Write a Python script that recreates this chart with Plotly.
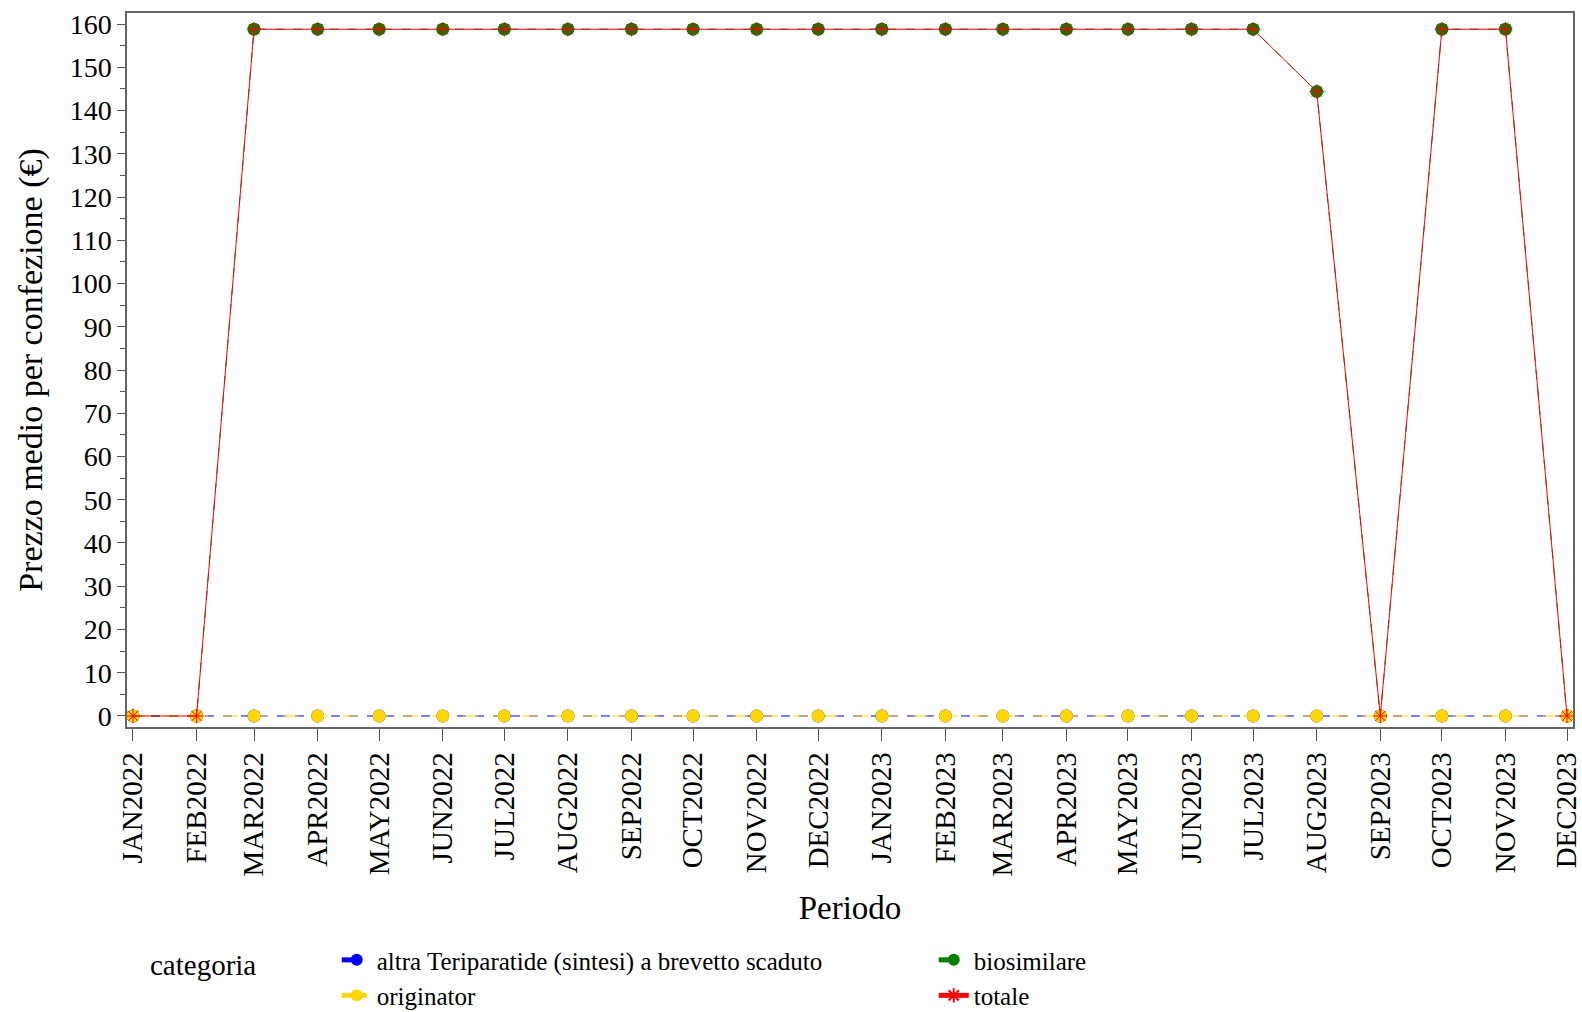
import plotly.graph_objects as go

periods = ["2022-01-01", "2022-02-01", "2022-03-01", "2022-04-01", "2022-05-01", "2022-06-01",
           "2022-07-01", "2022-08-01", "2022-09-01", "2022-10-01", "2022-11-01", "2022-12-01",
           "2023-01-01", "2023-02-01", "2023-03-01", "2023-04-01", "2023-05-01", "2023-06-01",
           "2023-07-01", "2023-08-01", "2023-09-01", "2023-10-01", "2023-11-01", "2023-12-01"]
tick_labels = ["JAN2022", "FEB2022", "MAR2022", "APR2022", "MAY2022", "JUN2022",
               "JUL2022", "AUG2022", "SEP2022", "OCT2022", "NOV2022", "DEC2022",
               "JAN2023", "FEB2023", "MAR2023", "APR2023", "MAY2023", "JUN2023",
               "JUL2023", "AUG2023", "SEP2023", "OCT2023", "NOV2023", "DEC2023"]

altra = [0] * 24
originator = [0] * 24
biosimilare = [0, 0, 158.8, 158.8, 158.8, 158.8, 158.8, 158.8, 158.8, 158.8, 158.8, 158.8,
               158.8, 158.8, 158.8, 158.8, 158.8, 158.8, 158.8, 144.4, 0, 158.8, 158.8, 0]
totale = [0, 0, 158.8, 158.8, 158.8, 158.8, 158.8, 158.8, 158.8, 158.8, 158.8, 158.8,
          158.8, 158.8, 158.8, 158.8, 158.8, 158.8, 158.8, 144.4, 0, 158.8, 158.8, 0]

FONT = "Liberation Serif"

fig = go.Figure()
fig.add_trace(go.Scatter(x=periods, y=altra, mode="lines+markers",
                         name="altra Teriparatide (sintesi) a brevetto scaduto",
                         line=dict(color="#0000FF", width=1, dash="dash"),
                         marker=dict(symbol="circle", size=13, color="#0000FF")))
fig.add_trace(go.Scatter(x=periods, y=biosimilare, mode="lines+markers",
                         name="biosimilare",
                         line=dict(color="#008000", width=1, dash="dash"),
                         marker=dict(symbol="circle", size=13, color="#008000")))
fig.add_trace(go.Scatter(x=periods, y=originator, mode="lines+markers",
                         name="originator",
                         line=dict(color="#FFD700", width=1, dash="longdash"),
                         marker=dict(symbol="circle", size=13, color="#FFD700")))
fig.add_trace(go.Scatter(x=periods, y=totale, mode="lines+markers",
                         name="totale",
                         line=dict(color="#FF0000", width=1),
                         marker=dict(symbol="asterisk-open", size=12,
                                     line=dict(color="#FF0000", width=1))))

fig.update_layout(
    width=1582, height=1012,
    paper_bgcolor="white", plot_bgcolor="white",
    font=dict(family=FONT, color="black", size=28),
    margin=dict(l=127, r=9, t=13, b=285),
    showlegend=True,
    legend=dict(orientation="h", x=0.0145, xanchor="left", xref="paper",
                y=0.074, yref="container", yanchor="top",
                title=dict(text="categoria&nbsp;&nbsp;&nbsp;&nbsp;&nbsp;&nbsp;&nbsp;&nbsp;&nbsp;&nbsp;",
                           side="left", font=dict(size=29)),
                font=dict(size=25), entrywidth=552, entrywidthmode="pixels",
                tracegroupgap=0, itemsizing="constant"),
    xaxis=dict(
        type="date", automargin=False,
        range=["2021-12-29 02:00", "2023-12-03 22:00"],
        tickvals=periods, ticktext=tick_labels, tickangle=-90,
        tickfont=dict(size=29), ticklabeloverflow="allow",
        ticks="outside", ticklen=12, tickcolor="#555",
        showline=True, linecolor="#666", linewidth=1.5, mirror=True,
        showgrid=False, zeroline=False,
        title=dict(text="Periodo", font=dict(size=33), standoff=20),
    ),
    yaxis=dict(
        automargin=False,
        range=[-2.55, 162.55],
        tickmode="linear", tick0=0, dtick=10,
        tickfont=dict(size=28),
        ticks="outside", ticklen=8, tickcolor="#555",
        minor=dict(ticks="outside", ticklen=5, dtick=5, tick0=0, tickcolor="#555"),
        showline=True, linecolor="#666", linewidth=1.5, mirror=True,
        showgrid=False, zeroline=False,
        title=dict(text="Prezzo medio per confezione (€)", font=dict(size=34), standoff=17),
    ),
)

fig.write_html("out.html", config={"displayModeBar": False},
               post_script="document.body.style.margin='0px';")
